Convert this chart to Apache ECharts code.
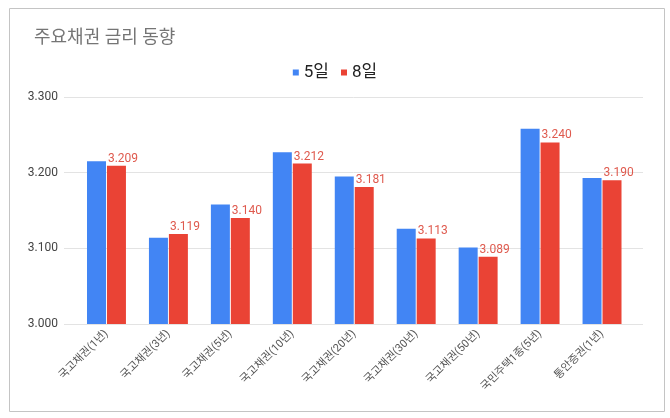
<!DOCTYPE html>
<html>
<head>
<meta charset="utf-8">
<script src="https://cdn.jsdelivr.net/npm/echarts@6/dist/echarts.min.js"></script>
<style>html,body{margin:0;padding:0;background:#fff}#c{width:670px;height:418px}</style>
</head>
<body>
<div id="c"></div>
<script>
const categories = ['국고채권(1년)','국고채권(3년)','국고채권(5년)','국고채권(10년)','국고채권(20년)','국고채권(30년)','국고채권(50년)','국민주택1종(5년)','통안증권(1년)'];
const day5 = [3.215, 3.114, 3.158, 3.227, 3.195, 3.126, 3.101, 3.258, 3.193];
const day8 = [3.209, 3.119, 3.140, 3.212, 3.181, 3.113, 3.089, 3.240, 3.190];
const yTicks = [3.0, 3.1, 3.2, 3.3];

const FONT = 'Roboto, "Noto Sans CJK KR", sans-serif';
const chart = echarts.init(document.getElementById('c'));
chart.setOption({
  animation: false,
  textStyle: {fontFamily: FONT},
  graphic: [{
    type: 'rect', shape: {x: 9.5, y: 8.5, width: 655, height: 403},
    style: {fill: 'none', stroke: '#c4c4c4', lineWidth: 1}, z: -1
  }],
  title: {
    text: '주요채권 금리 동향', left: 29, top: 25,
    textStyle: {fontSize: 18, fontWeight: 'normal', color: '#757575', fontFamily: FONT}
  },
  legend: {
    top: 59, left: 'center', icon: 'rect', itemWidth: 6, itemHeight: 6, itemGap: 12,
    textStyle: {fontSize: 17, color: '#222', fontFamily: FONT},
    data: ['5일', '8일']
  },
  grid: [
    {left: 64, right: 27, top: 97, bottom: 94},
    {left: 75.5, right: 37, top: 97, bottom: 94}
  ],
  xAxis: [
    {type: 'value', gridIndex: 0, show: false, min: 0, max: 1},
    {type: 'category', gridIndex: 1, data: categories,
     axisLine: {show: false}, axisTick: {show: false},
     axisLabel: {rotate: 45, fontSize: 11, color: '#555', margin: 8, interval: 0, fontFamily: FONT}}
  ],
  yAxis: [
    {type: 'value', gridIndex: 0, min: yTicks[0], max: yTicks[yTicks.length-1], interval: 0.1,
     axisLine: {show: false}, axisTick: {show: false},
     axisLabel: {fontSize: 12, color: '#444', margin: 6, formatter: v => v.toFixed(3), fontFamily: FONT},
     splitLine: {lineStyle: {color: '#e3e3e3'}}},
    {type: 'value', gridIndex: 1, min: yTicks[0], max: yTicks[yTicks.length-1], interval: 0.1, show: false,
     splitLine: {show: false}}
  ],
  series: [
    {name: '5일', type: 'bar', xAxisIndex: 1, yAxisIndex: 1, data: day5,
     barWidth: 19, barGap: '5%', itemStyle: {color: '#4285F4'}},
    {name: '8일', type: 'bar', xAxisIndex: 1, yAxisIndex: 1, data: day8,
     barWidth: 19, itemStyle: {color: '#EA4335'},
     label: {show: true, position: [1, -1], align: 'left', verticalAlign: 'bottom',
       fontSize: 12, color: '#df5a4e', fontFamily: FONT, formatter: p => p.value.toFixed(3)}}
  ]
});
</script>
</body>
</html>
